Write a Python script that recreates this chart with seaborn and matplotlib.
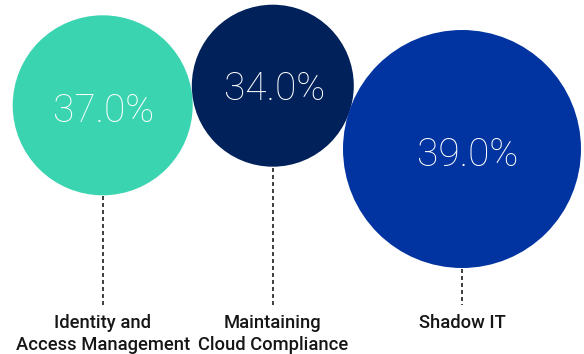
import matplotlib
matplotlib.use("Agg")
import matplotlib.pyplot as plt
import seaborn as sns
import pandas as pd

# Data
categories = ["Identity and\nAccess Management", "Maintaining\nCloud Compliance", "Shadow IT"]
shares = [37.0, 34.0, 39.0]

# Styling / layout (pixel space of a 584x354 canvas)
colors = ["#3bd4b0", "#01215b", "#0234a1"]
centers_x = [102.7, 272.8, 462.0]
centers_y = [105.3, 85.7, 149.0]
diameters = [180, 162, 238]
text_dx = [1, 2, 6]
text_dy = [2, 0, 2]
label_baseline = 328
label_step = 22
leader_end = 305

sns.set_theme(style="white")
plt.rcParams["font.family"] = ["Roboto", "DejaVu Sans"]

DPI = 100
fig = plt.figure(figsize=(5.84, 3.54), dpi=DPI)
ax = fig.add_axes([0, 0, 1, 1])

df = pd.DataFrame({
    "category": categories,
    "share": shares,
    "cx": centers_x,
    "cy": centers_y,
})

px_to_pt = 72 / DPI
size_map = {c: (d * px_to_pt) ** 2 for c, d in zip(categories, diameters)}
palette = dict(zip(categories, colors))

sns.scatterplot(
    data=df, x="cx", y="cy", hue="category", size="category",
    palette=palette, sizes=size_map, legend=False, linewidth=0,
    alpha=1, ax=ax, zorder=2,
)

for i, row in df.iterrows():
    r = diameters[i] / 2
    # dashed leader from bubble bottom to the label
    ax.plot([row.cx, row.cx], [row.cy + r + 1, leader_end],
            color="#1e1e1e", lw=1.2, linestyle=(0, (2.4, 1.8)), zorder=1)
    # value inside the bubble
    ax.text(row.cx + text_dx[i], row.cy + text_dy[i], f"{row.share:.1f}%",
            ha="center", va="center_baseline", color="white",
            fontsize=28, fontweight="light", zorder=3)
    # category label below
    for j, line in enumerate(row.category.split("\n")):
        ax.text(row.cx, label_baseline + j * label_step, line,
                ha="center", va="baseline", color="#161616",
                fontsize=13.2, fontweight="medium", zorder=3)

ax.set_xlim(0, 584)
ax.set_ylim(354, 0)
ax.set_axis_off()

fig.savefig("out.png", dpi=DPI, facecolor="white")
